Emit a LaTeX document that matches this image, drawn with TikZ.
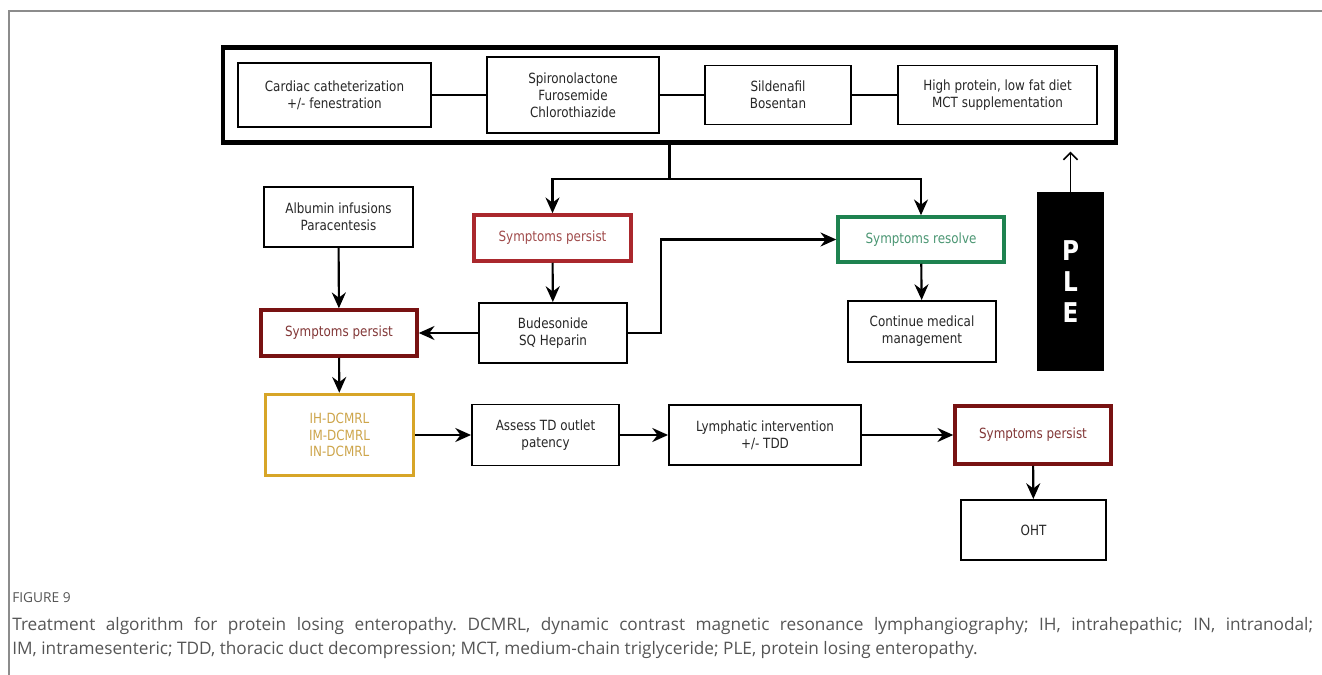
\documentclass[tikz,border=0pt]{standalone}
\usepackage{fontspec}
\setmainfont{DejaVu Sans}[FakeStretch=0.85]
\newfontfamily\capfont{Open Sans}
\usetikzlibrary{arrows.meta}
\definecolor{persred}{RGB}{170,40,45}
\definecolor{persredtxt}{RGB}{160,75,75}
\definecolor{maroon}{RGB}{120,18,18}
\definecolor{maroontxt}{RGB}{130,55,55}
\definecolor{resgreen}{RGB}{30,130,80}
\definecolor{resgreentxt}{RGB}{75,150,115}
\definecolor{dcgold}{RGB}{215,165,40}
\definecolor{dcgoldtxt}{RGB}{205,165,75}
\definecolor{capgray}{RGB}{85,85,85}
\frenchspacing
\begin{document}
\begin{tikzpicture}[x=0.02cm,y=-0.02cm,>={Stealth[length=9pt,width=8pt,inset=3pt]},
  box/.style={draw,line width=1.1pt,align=center,inner sep=1pt,text=black!85,
    font=\fontsize{8}{9.6}\selectfont},
  persbox/.style={box,line width=2pt,draw=persred,text=persredtxt},
  darkbox/.style={box,line width=2pt,draw=maroon,text=maroontxt},
  resbox/.style={box,line width=2pt,draw=resgreen,text=resgreentxt},
  goldbox/.style={box,line width=2pt,draw=dcgold,text=dcgoldtxt},
  link/.style={line width=1.2pt}]
\useasboundingbox (0,0) rectangle (1322,675);
\draw[gray!90,line width=0.7pt] (9,675)--(9,11)--(1322,11);

\node[draw,line width=2.4pt,minimum width=17.86cm,minimum height=1.9cm] (plan) at (669.5,95) {};
\node[box,minimum width=3.86cm,minimum height=1.28cm] (cath) at (334.5,95) {Cardiac catheterization\\+/- fenestration};
\node[box,minimum width=3.44cm,minimum height=1.52cm] (diur) at (573,95) {Spironolactone\\Furosemide\\Chlorothiazide};
\node[box,minimum width=2.92cm,minimum height=1.18cm] (pah) at (778,95) {Sildenafil\\Bosentan};
\node[box,minimum width=3.98cm,minimum height=1.18cm] (diet) at (997.5,95) {High protein, low fat diet\\MCT supplementation};
\draw[link] (cath)--(diur) (diur)--(pah) (pah)--(diet);

\node[persbox,minimum width=3.14cm,minimum height=0.92cm] (persA) at (552.5,238) {Symptoms persist};
\node[resbox,minimum width=3.32cm,minimum height=0.9cm] (resolve) at (921,239.5) {Symptoms resolve};
\node[box,minimum width=2.98cm,minimum height=1.2cm] (albumin) at (338.5,217) {Albumin infusions\\Paracentesis};
\node[darkbox,minimum width=3.12cm,minimum height=0.92cm] (persB) at (339,333) {Symptoms persist};
\node[box,minimum width=2.96cm,minimum height=1.2cm] (bude) at (553,333) {Budesonide\\SQ Heparin};
\node[box,minimum width=2.96cm,minimum height=1.22cm] (cont) at (922,331.5) {Continue medical\\management};
\node[fill=black,text=white,minimum width=1.34cm,minimum height=3.58cm,align=center,
  font=\bfseries\fontsize{15.5}{17.6}\selectfont] (ple) at (1070.5,281.5) {P\\L\\E};

\node[goldbox,minimum width=2.96cm,minimum height=1.62cm] (dcmrl) at (339.5,435) {IH-DCMRL\\IM-DCMRL\\IN-DCMRL};
\node[box,minimum width=2.94cm,minimum height=1.22cm] (assess) at (545.5,435) {Assess TD outlet\\patency};
\node[box,minimum width=3.84cm,minimum height=1.2cm] (lymph) at (765,435) {Lymphatic intervention\\+/- TDD};
\node[darkbox,minimum width=3.12cm,minimum height=1.16cm] (persC) at (1033,435) {Symptoms persist};
\node[box,minimum width=2.9cm,minimum height=1.2cm] (oht) at (1033.5,530) {OHT};

\coordinate (split) at (669.5,179);
\coordinate (turn) at (661,239.5);
\draw[link] (plan.south)--(split);
\draw[link,->] (split)-|(persA.north);
\draw[link,->] (split)-|(resolve.north);
\draw[link,->] (persA)--(bude);
\draw[link,->] (bude.east)-|(turn)--(resolve.west);
\draw[link,->] (bude)--(persB);
\draw[link,->] (albumin)--(persB);
\draw[link,->] (resolve)--(cont);
\draw[link,->] (persB)--(dcmrl);
\draw[link,->] (dcmrl)--(assess);
\draw[link,->] (assess)--(lymph);
\draw[link,->] (lymph)--(persC);
\draw[link,->] (persC)--(oht);
\draw[line width=0.9pt,-{Straight Barb[length=4pt,width=8pt]},shorten >=4pt] (ple.north)--(ple.north |- plan.south);

\node[anchor=west,inner sep=0pt,text=capgray,font=\capfont\fontsize{7.8}{9}\selectfont] (fig) at (12,598) {FIGURE 9};
\node[anchor=north west,inner sep=0pt,text width=26.02cm,align=justify,text=capgray,font=\capfont\fontsize{9.8}{13.6}\selectfont] (caption) at (12,617)
  {Treatment algorithm for protein losing enteropathy. DCMRL, dynamic contrast magnetic resonance lymphangiography; IH, intrahepathic; IN, intranodal;\linebreak
   IM, intramesenteric; TDD, thoracic duct decompression; MCT, medium-chain triglyceride; PLE, protein losing enteropathy.};
\end{tikzpicture}
\end{document}
